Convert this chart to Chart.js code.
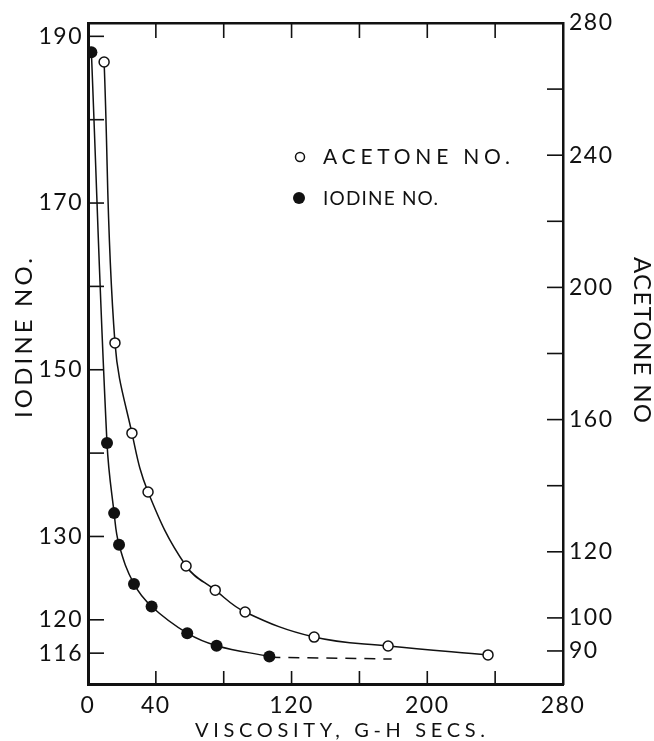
<!DOCTYPE html>
<html><head><meta charset="utf-8">
<script src="https://cdn.jsdelivr.net/npm/chart.js@4.4.0/dist/chart.umd.min.js"></script>
<style>html,body{margin:0;padding:0;background:#fff;}canvas{display:block;}</style>
</head><body>
<canvas id="c" width="654" height="741"></canvas>
<script>
// ---- data ----
const viscosityIodine = [2, 11.2, 15.4, 18.3, 27.1, 37.5, 58.5, 75.8, 106.9];
const iodineNo        = [188.1, 141.2, 132.8, 129.0, 124.3, 121.6, 118.4, 116.9, 115.6];
const viscosityIodineDash = [106.9, 179];
const iodineNoDash        = [115.5, 115.3];
const viscosityAcetone = [9.5, 15.9, 25.9, 35.4, 57.8, 75.0, 92.6, 133.3, 176.9, 235.8];
const acetoneNo        = [268.2, 183.2, 155.9, 138.1, 115.7, 108.4, 101.8, 94.2, 91.5, 88.8];

const xTickValues = [0, 40, 80, 120, 160, 200, 240, 280];
const xTickLabels = [0, 40, 120, 200, 280];
const iodineTickValues = [116, 120, 130, 140, 150, 160, 170, 180, 190];
const iodineTickLabels = [116, 120, 130, 150, 170, 190];
const acetoneTickValues = [90, 100, 120, 140, 160, 180, 200, 220, 240, 260, 280];
const acetoneTickLabels = [90, 100, 120, 160, 200, 240, 280];

const xTitle = 'VISCOSITY, G-H SECS.';
const yTitle = 'IODINE NO.';
const y2Title = 'ACETONE NO';
const legendAcetone = 'ACETONE NO.';
const legendIodine = 'IODINE NO.';

// ---- styling ----
const FAMILY = 'Lato, "DejaVu Sans", sans-serif';
const INK = '#111';
const pts = (xs, ys) => xs.map((x, i) => ({x: x, y: ys[i]}));
const setTicks = vals => scale => { scale.ticks = vals.map(v => ({value: v})); };
const labelOnly = list => v => list.includes(v) ? String(v) : '';

function spacedText(ctx, text, x, y, width, size, rot, align) {
  ctx.save();
  ctx.font = size + 'px ' + FAMILY;
  ctx.letterSpacing = '0px';
  const w0 = ctx.measureText(text).width;
  const ls = Math.max(0, (width - w0) / (text.length - 1));
  ctx.translate(x, y);
  ctx.rotate(rot);
  ctx.letterSpacing = ls + 'px';
  ctx.textAlign = 'left';
  ctx.textBaseline = 'alphabetic';
  ctx.fillStyle = INK;
  const start = align === 'left' ? 0 : -width / 2;
  ctx.fillText(text, start, size * 0.36);
  ctx.restore();
}

const decorations = {
  id: 'decorations',
  beforeDraw(chart) { chart.ctx.letterSpacing = '1.5px'; },
  afterDraw(chart) {
    const {ctx, chartArea: a, scales} = chart;
    ctx.letterSpacing = '0px';
    ctx.save();
    ctx.strokeStyle = INK;
    ctx.lineWidth = 1.6;
    const seg = (x1, y1, x2, y2) => { ctx.beginPath(); ctx.moveTo(x1, y1); ctx.lineTo(x2, y2); ctx.stroke(); };
    scales.x.ticks.forEach(t => {
      const px = scales.x.getPixelForValue(t.value);
      if (px <= a.left + 2 || px >= a.right - 2) return;
      seg(px, a.bottom, px, a.bottom - 13);
      seg(px, a.top, px, a.top + 15);
    });
    scales.y.ticks.forEach(t => {
      const py = scales.y.getPixelForValue(t.value);
      seg(a.left, py, a.left + 16, py);
    });
    scales.y2.ticks.forEach(t => {
      const py = scales.y2.getPixelForValue(t.value);
      if (py <= a.top + 2) return;
      seg(a.right, py, a.right - 16, py);
    });
    ctx.restore();

    // axis titles
    spacedText(ctx, yTitle, 23, 338, 160, 24, -Math.PI / 2);
    spacedText(ctx, y2Title, 643, 340, 166, 24, Math.PI / 2);
    spacedText(ctx, xTitle, 340, 730, 290, 20);

    // legend
    ctx.save();
    ctx.lineWidth = 1.5;
    ctx.strokeStyle = INK;
    ctx.fillStyle = '#fff';
    ctx.beginPath(); ctx.arc(300, 157, 4.5, 0, Math.PI * 2); ctx.fill(); ctx.stroke();
    ctx.fillStyle = INK;
    ctx.beginPath(); ctx.arc(299, 198, 6, 0, Math.PI * 2); ctx.fill();
    ctx.restore();
    spacedText(ctx, legendAcetone, 323, 156, 187, 21, 0, 'left');
    spacedText(ctx, legendIodine, 323, 198, 115, 19, 0, 'left');
  }
};

new Chart(document.getElementById('c'), {
  type: 'scatter',
  data: {
    datasets: [
      {
        label: legendAcetone,
        data: pts(viscosityAcetone, acetoneNo),
        yAxisID: 'y2',
        showLine: true,
        tension: 0.4,
        borderColor: INK, borderWidth: 1.5,
        pointRadius: 5, pointBorderWidth: 1.5,
        pointBackgroundColor: '#fff', pointBorderColor: INK
      },
      {
        label: legendIodine,
        data: pts(viscosityIodine, iodineNo),
        yAxisID: 'y',
        showLine: true,
        tension: 0.4,
        borderColor: INK, borderWidth: 1.5,
        pointRadius: 6, pointBorderWidth: 0,
        pointBackgroundColor: INK, pointBorderColor: INK
      },
      {
        label: 'dash',
        data: pts(viscosityIodineDash, iodineNoDash),
        yAxisID: 'y',
        showLine: true,
        borderColor: INK, borderWidth: 1.5,
        borderDash: [11, 8],
        pointRadius: 0
      }
    ]
  },
  options: {
    responsive: false,
    animation: false,
    devicePixelRatio: 1,
    events: [],
    layout: {padding: 0},
    plugins: {legend: {display: false}, tooltip: {enabled: false}},
    scales: {
      x: {
        type: 'linear', position: 'bottom', min: 0, max: 280,
        afterBuildTicks: setTicks(xTickValues),
        afterFit: s => { s.height = 57; },
        grid: {display: false, drawTicks: false},
        border: {display: true, color: INK, width: 3},
        ticks: {color: INK, padding: 8, maxRotation: 0, autoSkip: false,
                font: {family: FAMILY, size: 23}, callback: labelOnly(xTickLabels)}
      },
      x2: {
        type: 'linear', position: 'top', min: 0, max: 280,
        afterFit: s => { s.height = 23; },
        grid: {display: false, drawTicks: false},
        border: {display: true, color: INK, width: 2.5},
        ticks: {display: false}
      },
      y: {
        type: 'linear', position: 'left', min: 112.3, max: 191.6,
        afterBuildTicks: setTicks(iodineTickValues),
        afterFit: s => { s.width = 88; },
        grid: {display: false, drawTicks: false},
        border: {display: true, color: INK, width: 3},
        ticks: {color: INK, padding: 5, autoSkip: false,
                font: {family: FAMILY, size: 23}, callback: labelOnly(iodineTickLabels)}
      },
      y2: {
        type: 'linear', position: 'right', min: 80, max: 280,
        afterBuildTicks: setTicks(acetoneTickValues),
        afterFit: s => { s.width = 91; },
        grid: {display: false, drawTicks: false},
        border: {display: true, color: INK, width: 2.5},
        ticks: {color: INK, padding: 6, autoSkip: false,
                font: {family: FAMILY, size: 23}, callback: labelOnly(acetoneTickLabels)}
      }
    }
  },
  plugins: [decorations]
});
</script>
</body></html>
